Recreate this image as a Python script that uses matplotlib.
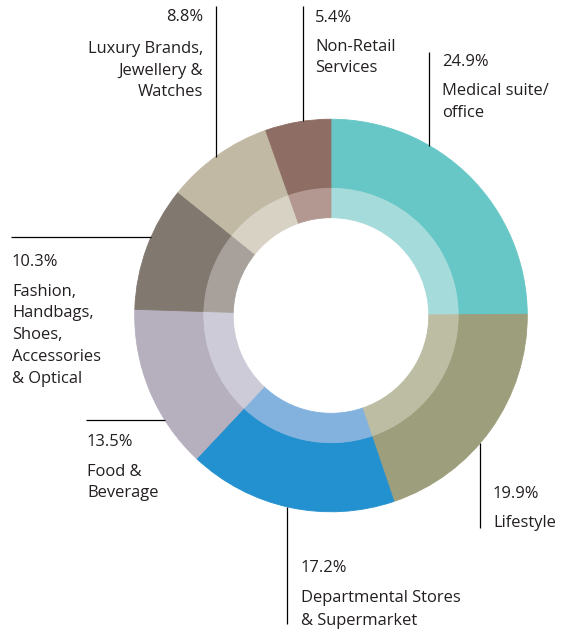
import matplotlib
matplotlib.use("Agg")
import matplotlib.pyplot as plt
import numpy as np

# ---- data ----
categories = ["Medical suite/\noffice", "Lifestyle", "Departmental Stores\n& Supermarket",
              "Food &\nBeverage", "Fashion,\nHandbags,\nShoes,\nAccessories\n& Optical",
              "Luxury Brands,\nJewellery &\nWatches", "Non-Retail\nServices"]
values = [24.9, 19.9, 17.2, 13.5, 10.3, 8.8, 5.4]
pct_labels = ["24.9%", "19.9%", "17.2%", "13.5%", "10.3%", "8.8%", "5.4%"]
outer_colors = ["#67C7C6", "#9D9E7B", "#2391CF", "#B5AFBE", "#81786F", "#C1B9A4", "#8E6E64"]
inner_colors = ["#A6DBDB", "#BDBDA3", "#83B2DE", "#CECBD8", "#A8A19B", "#D8D2C4", "#B29891"]

# ---- layout (pixels) ----
W, H = 564, 632
CX, CY = 331, 315.5
R_OUT, R_MID, R_IN = 196.3, 127.2, 97.8
TXT = "#231F20"
FONT = ["Open Sans", "DejaVu Sans"]
FS = 11.9
DY = 1.6  # vertical text offset

# per label: (ha, x, pct_y, first_line_y, line_step, leader)
# leader: ("v", x, y_end_far) or ("h", y, x_far)
label_layout = [
    ("left", 441.7, 60, 89.3, 22.4, ("v", 429.3, 51.7)),
    ("left", 493, 492.7, 521.7, 22, ("v", 480.3, 528)),
    ("left", 300.7, 566.7, 596, 23, ("v", 287.3, 624)),
    ("left", 87, 440.7, 470, 21.7, ("h", 420.3, 86)),
    ("left", 12, 260, 290, 21.8, ("h", 237.3, 11)),
    ("right", 203, 15, 47.7, 21.5, ("v", 215.7, 5.7)),
    ("left", 315, 16, 45, 21.7, ("v", 302.5, 5.7)),
]

def Y(y):
    return H - y

fig = plt.figure(figsize=(W / 100, H / 100), dpi=100)
ax = fig.add_axes([0, 0, 1, 1])

w_out, _ = ax.pie(values, colors=outer_colors, radius=R_OUT, center=(CX, Y(CY)),
                  startangle=90, counterclock=False,
                  wedgeprops=dict(width=R_OUT - R_MID, linewidth=0.6))
w_in, _ = ax.pie(values, colors=inner_colors, radius=R_MID, center=(CX, Y(CY)),
                 startangle=90, counterclock=False,
                 wedgeprops=dict(width=R_MID - R_IN, linewidth=0.6))
for w in list(w_out) + list(w_in):
    w.set_edgecolor(w.get_facecolor())

for cat, pct, (ha, x, py, fy, step, leader) in zip(categories, pct_labels, label_layout):
    ax.text(x, Y(py + DY), pct, ha=ha, va="center", fontsize=FS, color=TXT, family=FONT)
    for i, line in enumerate(cat.split("\n")):
        ax.text(x, Y(fy + i * step + DY), line, ha=ha, va="center", fontsize=FS,
                color=TXT, family=FONT)
    kind, a, b = leader
    if kind == "v":
        dx = a - CX
        dy = np.sqrt(R_OUT ** 2 - dx ** 2)
        y_edge = CY - dy if b < CY else CY + dy
        ax.plot([a, a], [Y(b), Y(y_edge)], color="black", lw=0.9, solid_capstyle="butt")
    else:
        dy = a - CY
        dx = np.sqrt(R_OUT ** 2 - dy ** 2)
        x_edge = CX - dx if b < CX else CX + dx
        ax.plot([b, x_edge], [Y(a), Y(a)], color="black", lw=0.9, solid_capstyle="butt")

ax.set_xlim(0, W)
ax.set_ylim(0, H)
ax.set_aspect("equal")
ax.axis("off")
fig.savefig("out.png", dpi=100, facecolor="white")
